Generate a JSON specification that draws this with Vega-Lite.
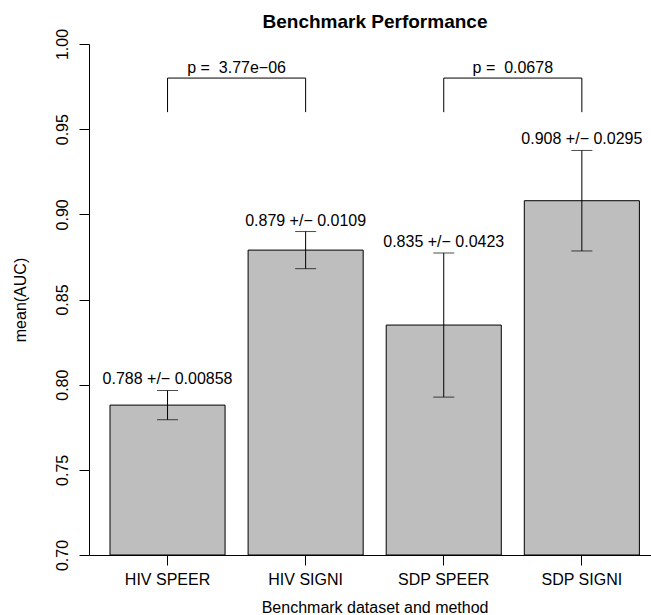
{
  "$schema": "https://vega.github.io/schema/vega-lite/v6.json",
  "width": 562,
  "height": 511,
  "autosize": {"type": "none"},
  "padding": {"left": 89, "top": 44, "right": 0, "bottom": 60},
  "background": "white",
  "title": {
    "text": "Benchmark Performance",
    "font": "Liberation Sans",
    "fontSize": 19,
    "fontWeight": "bold",
    "color": "black",
    "anchor": "middle",
    "frame": "group",
    "baseline": "alphabetic",
    "offset": -19,
    "dx": 5
  },
  "datasets": {
    "bars": [
      {"method": "HIV SPEER", "mean": 0.788, "sd": 0.00858, "label": "0.788 +/− 0.00858"},
      {"method": "HIV SIGNI", "mean": 0.879, "sd": 0.0109, "label": "0.879 +/− 0.0109"},
      {"method": "SDP SPEER", "mean": 0.835, "sd": 0.0423, "label": "0.835 +/− 0.0423"},
      {"method": "SDP SIGNI", "mean": 0.908, "sd": 0.0295, "label": "0.908 +/− 0.0295"}
    ],
    "brackets": [
      {"from": "HIV SPEER", "to": "HIV SIGNI", "p": "p = \u00a03.77e−06", "low": 0.96, "high": 0.98},
      {"from": "SDP SPEER", "to": "SDP SIGNI", "p": "p = \u00a00.0678", "low": 0.96, "high": 0.98}
    ]
  },
  "resolve": {"scale": {"x": "shared", "y": "shared"}},
  "layer": [
    {
      "data": {"name": "bars"},
      "mark": {"type": "bar", "fill": "#bebebe", "stroke": "black", "strokeWidth": 1},
      "encoding": {
        "x": {
          "field": "method",
          "type": "nominal",
          "title": "Benchmark dataset and method",
          "scale": {
            "domain": ["HIV SPEER", "HIV SIGNI", "SDP SPEER", "SDP SIGNI"],
            "paddingInner": 0.1667,
            "paddingOuter": 0.118,
            "align": 0.644
          },
          "axis": {
            "labelAngle": 0,
            "labelFont": "Liberation Sans",
            "labelFontSize": 16,
            "labelColor": "black",
            "labelBaseline": "alphabetic",
            "labelPadding": 19,
            "tickSize": 10,
            "tickColor": "black",
            "domainColor": "black",
            "titleFont": "Liberation Sans",
            "titleFontSize": 16,
            "titleFontWeight": "normal",
            "titleColor": "black",
            "titleBaseline": "alphabetic",
            "titleX": 285.6,
            "titleY": 57
          }
        },
        "y": {
          "field": "mean",
          "type": "quantitative",
          "title": "mean(AUC)",
          "scale": {"domain": [0.7, 1.0], "zero": false, "nice": false},
          "axis": {
            "values": [0.7, 0.75, 0.8, 0.85, 0.9, 0.95, 1.0],
            "format": ".2f",
            "grid": false,
            "labelAngle": 270,
            "labelAlign": "center",
            "labelBaseline": "alphabetic",
            "labelPadding": 12,
            "labelFont": "Liberation Sans",
            "labelFontSize": 16,
            "labelColor": "black",
            "tickSize": 10,
            "tickColor": "black",
            "domainColor": "black",
            "titleFont": "Liberation Sans",
            "titleFontSize": 16,
            "titleFontWeight": "normal",
            "titleColor": "black",
            "titleAngle": 270,
            "titleAlign": "center",
            "titleBaseline": "alphabetic",
            "titleX": -64,
            "titleY": 255.5
          }
        },
        "y2": {"datum": 0.7}
      }
    },
    {
      "data": {"name": "bars"},
      "transform": [
        {"calculate": "datum.mean - datum.sd", "as": "lo"},
        {"calculate": "datum.mean + datum.sd", "as": "hi"}
      ],
      "mark": {"type": "rule", "color": "black", "strokeWidth": 1},
      "encoding": {
        "x": {"field": "method", "type": "nominal", "title": "Benchmark dataset and method"},
        "y": {"field": "lo", "type": "quantitative", "title": "mean(AUC)"},
        "y2": {"field": "hi"}
      }
    },
    {
      "data": {"name": "bars"},
      "transform": [
        {"calculate": "datum.mean - datum.sd", "as": "lo"}
      ],
      "mark": {"type": "tick", "color": "black", "thickness": 1, "size": 21, "orient": "horizontal"},
      "encoding": {
        "x": {"field": "method", "type": "nominal", "title": "Benchmark dataset and method"},
        "y": {"field": "lo", "type": "quantitative", "title": "mean(AUC)"}
      }
    },
    {
      "data": {"name": "bars"},
      "transform": [
        {"calculate": "datum.mean + datum.sd", "as": "hi"}
      ],
      "mark": {"type": "tick", "color": "black", "thickness": 1, "size": 21, "orient": "horizontal"},
      "encoding": {
        "x": {"field": "method", "type": "nominal", "title": "Benchmark dataset and method"},
        "y": {"field": "hi", "type": "quantitative", "title": "mean(AUC)"}
      }
    },
    {
      "data": {"name": "bars"},
      "transform": [
        {"calculate": "datum.mean + datum.sd", "as": "hi"}
      ],
      "mark": {"type": "text", "font": "Liberation Sans", "fontSize": 16, "color": "black", "baseline": "alphabetic", "align": "center", "dy": -6},
      "encoding": {
        "x": {"field": "method", "type": "nominal", "title": "Benchmark dataset and method"},
        "y": {"field": "hi", "type": "quantitative", "title": "mean(AUC)"},
        "text": {"field": "label"}
      }
    },
    {
      "data": {"name": "brackets"},
      "mark": {"type": "rule", "color": "black", "strokeWidth": 1},
      "encoding": {
        "x": {"field": "from", "type": "nominal", "title": "Benchmark dataset and method"},
        "x2": {"field": "to"},
        "y": {"field": "high", "type": "quantitative", "title": "mean(AUC)"}
      }
    },
    {
      "data": {"name": "brackets"},
      "transform": [{"fold": ["from", "to"], "as": ["end", "method"]}],
      "mark": {"type": "rule", "color": "black", "strokeWidth": 1},
      "encoding": {
        "x": {"field": "method", "type": "nominal", "title": "Benchmark dataset and method"},
        "y": {"field": "low", "type": "quantitative", "title": "mean(AUC)"},
        "y2": {"field": "high"}
      }
    },
    {
      "data": {"name": "brackets"},
      "mark": {"type": "text", "font": "Liberation Sans", "fontSize": 16, "color": "black", "baseline": "alphabetic", "align": "center", "dy": -5},
      "encoding": {
        "x": {"field": "from", "type": "nominal", "bandPosition": 1.1, "title": "Benchmark dataset and method"},
        "y": {"field": "high", "type": "quantitative", "title": "mean(AUC)"},
        "text": {"field": "p"}
      }
    }
  ],
  "config": {
    "view": {"stroke": null}
  }
}
